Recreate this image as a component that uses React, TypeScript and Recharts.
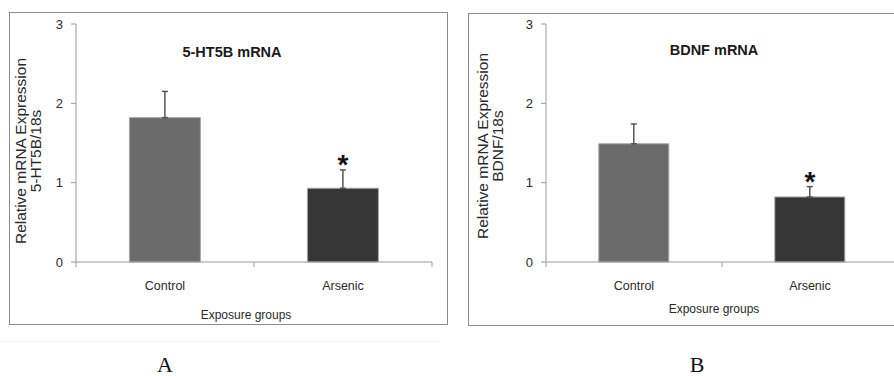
import React from 'react'
import {
  BarChart,
  Bar,
  Cell,
  XAxis,
  YAxis,
  ErrorBar,
  ReferenceDot,
} from 'recharts'

const categories = ['Control', 'Arsenic']
const htMeans = [1.82, 0.93]
const htErrors = [0.33, 0.23]
const bdnfMeans = [1.49, 0.82]
const bdnfErrors = [0.25, 0.13]
const significant = [false, true]
const yTicks = [0, 1, 2, 3]
const barColors = ['#6b6b6b', '#363636']

const FONT = '"Liberation Sans", Arial, sans-serif'
const AXIS_GREY = '#9a9a9a'
const TEXT = '#2a2a2a'

function XTitle({ viewBox, text, dx, dy }: any) {
  const { x, y, width } = viewBox
  return (
    <text x={x + width / 2 + dx} y={y + dy} textAnchor="middle" fontSize={12} fill={TEXT} fontFamily={FONT}>
      {text}
    </text>
  )
}

function YTitle({ viewBox, lines, x1, gap, dy }: any) {
  const cy = viewBox.y + viewBox.height / 2 + dy
  return (
    <g>
      {lines.map((l: string, i: number) => {
        const cx = viewBox.x + x1 + i * gap
        return (
          <text
            key={i}
            x={cx}
            y={cy}
            transform={`rotate(-90 ${cx} ${cy})`}
            textAnchor="middle"
            dominantBaseline="central"
            fontSize={15.5}
            fill={TEXT}
            fontFamily={FONT}
          >
            {l}
          </text>
        )
      })}
    </g>
  )
}

function CatTick({ x, y, payload, index }: any) {
  const half = payload?.offset ?? 0
  return (
    <g>
      {index === 0 && <line x1={x - half} x2={x - half} y1={y} y2={y + 5} stroke={AXIS_GREY} />}
      <line x1={x + half} x2={x + half} y1={y} y2={y + 5} stroke={AXIS_GREY} />
      <text x={x} y={y + 28} textAnchor="middle" fontSize={12.5} fill={TEXT} fontFamily={FONT}>
        {payload.value}
      </text>
    </g>
  )
}

function Star({ viewBox }: any) {
  const cx = viewBox.x + viewBox.width / 2
  const cy = viewBox.y + viewBox.height / 2
  return (
    <text x={cx} y={cy + 4} textAnchor="middle" fontSize={28} fontWeight="bold" fill="#111" fontFamily={FONT}>
      *
    </text>
  )
}

function Panel({ means, errors, ylabel, yAxisWidth, right, width, x1, gap, ydy, xdy }: any) {
  const data = categories.map((c, i) => ({ name: c, mean: means[i], err: [0, errors[i]] }))
  return (
    <BarChart
      width={width}
      height={340}
      data={data}
      margin={{ top: 24, right, bottom: 28, left: 0 }}
      barCategoryGap="30%"
    >
      <YAxis
        type="number"
        domain={[0, 3]}
        ticks={yTicks}
        width={yAxisWidth}
        tickSize={5}
        tickMargin={8}
        stroke={AXIS_GREY}
        tick={{ fontSize: 13, fill: TEXT, fontFamily: FONT }}
        label={<YTitle lines={['Relative mRNA Expression', ylabel]} x1={x1} gap={gap} dy={ydy} />}
      />
      <XAxis
        dataKey="name"
        height={50}
        tickSize={0}
        tickMargin={0}
        stroke={AXIS_GREY}
        tick={<CatTick />}
        interval={0}
        label={<XTitle text="Exposure groups" dx={-8} dy={xdy} />}
      />
      <Bar dataKey="mean" stroke="#a8a8a8" strokeWidth={1} isAnimationActive={false}>
        {data.map((_, i) => (
          <Cell key={i} fill={barColors[i]} />
        ))}
        <ErrorBar dataKey="err" direction="y" width={3} stroke="#555" strokeWidth={1.5} />
      </Bar>
      {categories.map((c, i) =>
        significant[i] ? (
          <ReferenceDot
            key={c}
            x={c}
            y={means[i] + errors[i]}
            r={0}
            fill="none"
            stroke="none"
            label={<Star />}
          />
        ) : null,
      )}
    </BarChart>
  )
}

export default function App() {
  return (
    <div
      style={{
        position: 'absolute',
        left: 0,
        top: 0,
        width: 894,
        height: 376,
        overflow: 'hidden',
        background: '#fff',
        fontFamily: FONT,
      }}
    >
      <div style={{ position: 'absolute', left: 9, top: 12, width: 437, height: 311, border: '1.5px solid #8c8c8c' }} />
      <div style={{ position: 'absolute', left: 468, top: 13, width: 460, height: 311, border: '1.5px solid #8c8c8c' }} />
      <div style={{ position: 'absolute', left: 0, top: 341, width: 442, height: 0, borderTop: '1px solid #f2f2f2' }} />

      <div style={{ position: 'absolute', left: 0, top: 0 }}>
        <Panel means={htMeans} errors={htErrors} ylabel="5-HT5B/18s" yAxisWidth={76} right={18} width={450} x1={20} gap={15} ydy={8} xdy={57} />
      </div>
      <div style={{ position: 'absolute', left: 450, top: 0 }}>
        <Panel means={bdnfMeans} errors={bdnfErrors} ylabel="BDNF/18s" yAxisWidth={96} right={12} width={460} x1={32} gap={15} ydy={3} xdy={51} />
      </div>

      <div style={{ position: 'absolute', left: 132, top: 43, width: 200, textAlign: 'center', fontSize: 14.5, fontWeight: 'bold', color: '#1a1a1a', lineHeight: '18px' }}>
        5-HT5B mRNA
      </div>
      <div style={{ position: 'absolute', left: 614, top: 41, width: 200, textAlign: 'center', fontSize: 14.5, fontWeight: 'bold', color: '#1a1a1a', lineHeight: '18px' }}>
        BDNF mRNA
      </div>

      <div style={{ position: 'absolute', left: 125, top: 351, width: 80, textAlign: 'center', fontSize: 22, fontFamily: '"Liberation Serif", serif', color: '#111', lineHeight: '28px' }}>
        A
      </div>
      <div style={{ position: 'absolute', left: 657, top: 351, width: 80, textAlign: 'center', fontSize: 22, fontFamily: '"Liberation Serif", serif', color: '#111', lineHeight: '28px' }}>
        B
      </div>
    </div>
  )
}
